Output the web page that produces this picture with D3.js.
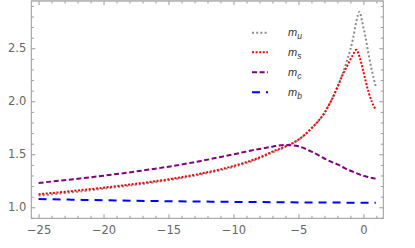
<!DOCTYPE html>
<html><head><meta charset="utf-8">
<script src="https://cdn.jsdelivr.net/npm/d3@7"></script>
<style>body{margin:0;background:#fff}svg{display:block}</style>
</head><body>
<svg id="c" width="415" height="248"></svg>
<script>
const xs = [-25,-22.5,-20,-17.5,-15,-12.5,-10,-8,-7,-6,-5,-4,-3,-2.5,-2,-1.6,-1.3,-1,-0.8,-0.55,-0.3,-0.1,0.15,0.4,0.65,0.95];
const mu = [1.11,1.14,1.175,1.212,1.255,1.31,1.38,1.462,1.517,1.57,1.635,1.745,1.89,2.0,2.14,2.26,2.37,2.49,2.59,2.75,2.845,2.75,2.61,2.44,2.29,2.14];
const ms = [1.123,1.152,1.185,1.222,1.264,1.318,1.39,1.47,1.525,1.575,1.638,1.745,1.89,2.0,2.13,2.25,2.32,2.395,2.44,2.485,2.42,2.33,2.2,2.085,1.995,1.92];
const mc = [1.23,1.262,1.298,1.338,1.383,1.437,1.50,1.55,1.572,1.588,1.575,1.525,1.46,1.43,1.405,1.38,1.36,1.345,1.335,1.322,1.31,1.30,1.292,1.285,1.277,1.27];
const mb = [1.078,1.072,1.066,1.061,1.057,1.054,1.051,1.049,1.048,1.047,1.046,1.045,1.045,1.044,1.044,1.044,1.043,1.043,1.043,1.043,1.043,1.043,1.043,1.042,1.042,1.042];
const xTicks = [-25,-20,-15,-10,-5,0];
const yTicks = [1.0,1.5,2.0,2.5];
const seriesNames = ["u","s","c","b"];
const seriesColors = ["#8c8c8c","#ff0000","#800080","#0000ff"];
const seriesDash = ["2,2.2","2,1.6","5,2.6","8,6"];

const svg = d3.select("#c");
const L=31.3, R=383.3, T=1, B=218.3;
const x = d3.scaleLinear().domain([-25.56, 1.53]).range([L, R]);
const y = d3.scaleLinear().domain([0.896, 2.946]).range([B, T]);
const frameCol = "#999", textCol = "#666";
const font = "'DejaVu Sans', sans-serif";

// curves
const data = [mu, ms, mc, mb];
const line = d3.line().x(d=>x(d[0])).y(d=>y(d[1])).curve(d3.curveMonotoneX);
const clip = svg.append("clipPath").attr("id","cp").append("rect")
  .attr("x",L).attr("y",T).attr("width",R-L).attr("height",B-T);
const g = svg.append("g").attr("clip-path","url(#cp)");
data.forEach((vals,i)=>{
  g.append("path").datum(xs.map((xv,j)=>[xv, vals[j]]))
    .attr("d", line).attr("fill","none")
    .attr("stroke", seriesColors[i]).attr("stroke-width", 2)
    .attr("stroke-dasharray", seriesDash[i]);
});

// frame axes
const xMinor = d3.range(-25, 2, 1).filter(v=>!xTicks.includes(v));
const yMinor = d3.range(0.9, 2.95, 0.1).map(v=>+v.toFixed(1)).filter(v=>!yTicks.includes(v));
function styleAxis(sel){
  sel.selectAll(".domain").remove();
  sel.selectAll("line").attr("stroke", frameCol).attr("stroke-width",1);
  sel.selectAll("text").attr("fill", textCol).style("font-family", font).style("font-size","11.5px");
}
const fmtX = d => d<0 ? "\u2212"+Math.abs(d) : String(d);
svg.append("g").attr("transform",`translate(0,${B})`)
  .call(d3.axisBottom(x).tickValues(xTicks).tickSize(-4).tickPadding(8).tickFormat(fmtX)).call(styleAxis);
svg.append("g").attr("transform",`translate(0,${B})`)
  .call(d3.axisBottom(x).tickValues(xMinor).tickSize(-2.5).tickFormat("")).call(styleAxis);
svg.append("g").attr("transform",`translate(0,${T})`)
  .call(d3.axisTop(x).tickValues(xTicks).tickSize(-4).tickFormat("")).call(styleAxis);
svg.append("g").attr("transform",`translate(0,${T})`)
  .call(d3.axisTop(x).tickValues(xMinor).tickSize(-2.5).tickFormat("")).call(styleAxis);
svg.append("g").attr("transform",`translate(${L},0)`)
  .call(d3.axisLeft(y).tickValues(yTicks).tickSize(-4).tickPadding(5).tickFormat(d3.format(".1f"))).call(styleAxis);
svg.append("g").attr("transform",`translate(${L},0)`)
  .call(d3.axisLeft(y).tickValues(yMinor).tickSize(-2.5).tickFormat("")).call(styleAxis);
svg.append("g").attr("transform",`translate(${R},0)`)
  .call(d3.axisRight(y).tickValues(yTicks).tickSize(-4).tickFormat("")).call(styleAxis);
svg.append("g").attr("transform",`translate(${R},0)`)
  .call(d3.axisRight(y).tickValues(yMinor).tickSize(-2.5).tickFormat("")).call(styleAxis);
svg.append("rect").attr("x",L).attr("y",T).attr("width",R-L).attr("height",B-T)
  .attr("fill","none").attr("stroke",frameCol).attr("stroke-width",1);
svg.append("line").attr("x1",L).attr("x2",R).attr("y1",0.8).attr("y2",0.8)
  .attr("stroke","#bbb").attr("stroke-width",1.6);

// legend
const legY = [32.7, 52.3, 72.3, 92.3];
seriesNames.forEach((n,i)=>{
  svg.append("line").attr("x1",252).attr("x2",268).attr("y1",legY[i]).attr("y2",legY[i])
    .attr("stroke",seriesColors[i]).attr("stroke-width",2).attr("stroke-dasharray",seriesDash[i]);
  const t = svg.append("text").attr("x",288).attr("y",legY[i]+3.5)
    .attr("fill","#333").style("font-family","'Liberation Sans', Arial, sans-serif")
    .style("font-style","italic").style("font-size","11px");
  t.append("tspan").text("m");
  t.append("tspan").attr("dy",2.8).style("font-size","8.5px").text(n);
});
</script>
</body></html>
